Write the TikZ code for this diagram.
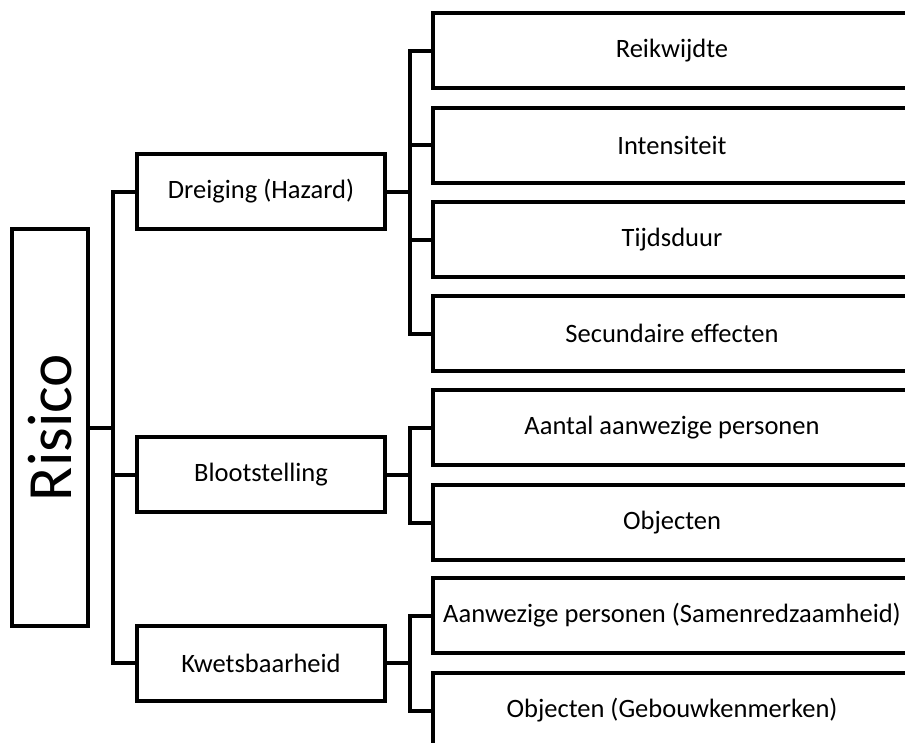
\documentclass[tikz,border=0pt]{standalone}
\usepackage{fontspec}
\setmainfont{Carlito}
\begin{document}
\begin{tikzpicture}[x=1pt,y=-1pt,
  box/.style={draw=black,line width=4pt,fill=white,inner sep=0pt,
    minimum height=75pt,align=center,font=\fontsize{26.5}{30}\selectfont},
  midbox/.style={box,minimum width=248pt},
  leafbox/.style={box,minimum width=478pt},
  link/.style={draw=black,line width=4pt,line join=miter}]
  \useasboundingbox (0,0) rectangle (905,742);
  \clip (0,0) rectangle (905,742);

  % root, with its label set upright along the box
  \node[box,minimum width=76pt,minimum height=397pt,
        font=\fontsize{63}{70}\selectfont] (ris) at (50,427.5)
        {\rotatebox{90}{Risico}};

  % second level
  \node[midbox] (dre) at (261,191.5) {Dreiging (Hazard)};
  \node[midbox] (blo) at (261,474.5) {Blootstelling};
  \node[midbox] (kwe) at (261,663) {Kwetsbaarheid};

  % leaves
  \node[leafbox] (l1) at (672,50.5)  {Reikwijdte};
  \node[leafbox] (l2) at (672,145)   {Intensiteit};
  \node[leafbox] (l3) at (672,239.5) {Tijdsduur};
  \node[leafbox] (l4) at (672,333.5) {Secundaire effecten};
  \node[leafbox] (l5) at (672,427.5) {Aantal aanwezige personen};
  \node[leafbox] (l6) at (672,522.5) {Objecten};
  \node[leafbox] (l7) at (672,615.5) {Aanwezige personen (Samenredzaamheid)};
  \node[leafbox] (l8) at (672,710.5) {Objecten (Gebouwkenmerken)};

  % bus points
  \coordinate (b0) at (113,427.5);
  \coordinate (b1) at (410,191.5);
  \coordinate (b2) at (410,474.5);
  \coordinate (b3) at (410,663);

  % connectors
  \draw[link] (ris.east) -- (b0);
  \draw[link] (b0) |- (dre.west);
  \draw[link] (b0) |- (blo.west);
  \draw[link] (b0) |- (kwe.west);

  \draw[link] (dre.east) -- (b1);
  \draw[link] (b1) |- (l1.west);
  \draw[link] (b1) |- (l2.west);
  \draw[link] (b1) |- (l3.west);
  \draw[link] (b1) |- (l4.west);

  \draw[link] (blo.east) -- (b2);
  \draw[link] (b2) |- (l5.west);
  \draw[link] (b2) |- (l6.west);

  \draw[link] (kwe.east) -- (b3);
  \draw[link] (b3) |- (l7.west);
  \draw[link] (b3) |- (l8.west);
\end{tikzpicture}
\end{document}
